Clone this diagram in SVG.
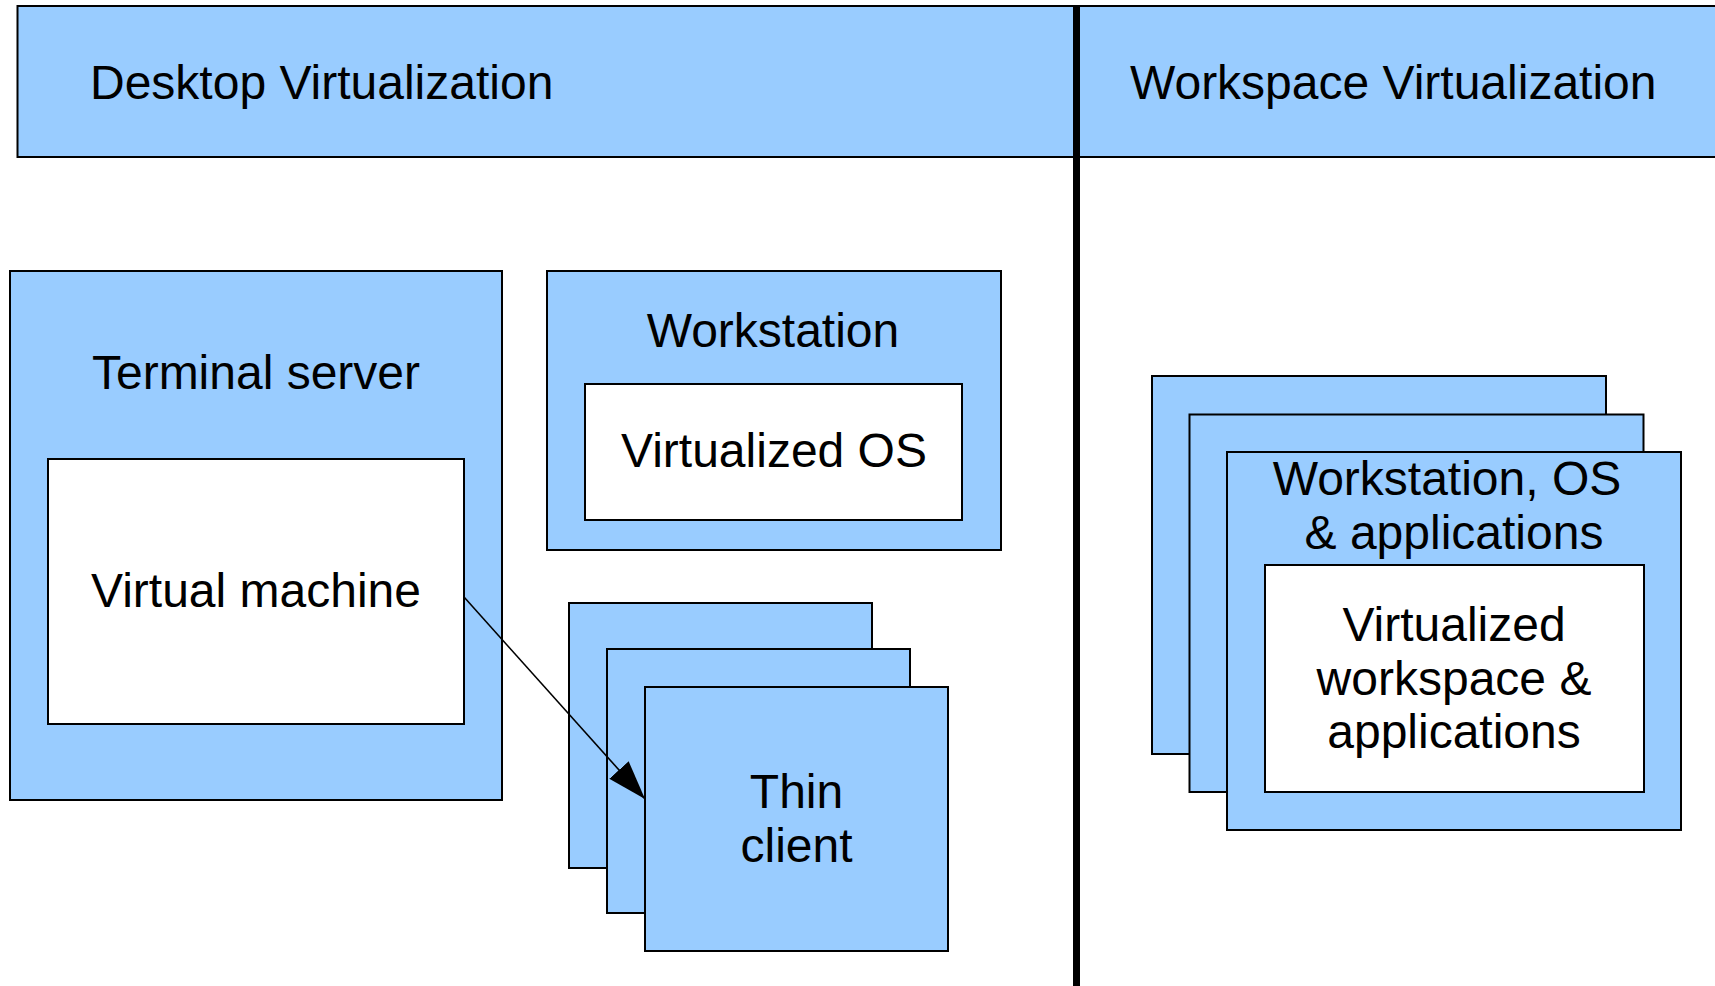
<svg xmlns="http://www.w3.org/2000/svg" width="1715" height="986" viewBox="0 0 1715 986">
<style>
.b{fill:#99ccff;stroke:#000;stroke-width:2}
.w{fill:#fff;stroke:#000;stroke-width:2}
text{font-family:"Liberation Sans",Arial,sans-serif;font-size:48px;fill:#000}
.c{text-anchor:middle}
</style>
<defs>
<marker id="arr" markerUnits="userSpaceOnUse" markerWidth="39" markerHeight="26" viewBox="0 0 39 26" refX="39" refY="13" orient="auto">
<path d="M0,0 L39,13 L0,26 z" fill="#000"/>
</marker>
</defs>
<rect width="1715" height="986" fill="#fff"/>
<g id="header">
<rect class="b" x="17.5" y="6" width="1710" height="151"/>
<text x="90" y="99">Desktop Virtualization</text>
<text x="1130" y="99">Workspace Virtualization</text>
</g>
<g id="divider">
<line x1="1076.5" y1="6" x2="1076.5" y2="986" stroke="#000" stroke-width="7"/>
</g>
<g id="terminal-server">
<rect class="b" x="10" y="271" width="492" height="529"/>
<text class="c" x="256" y="389">Terminal server</text>
</g>
<g id="virtual-machine">
<rect class="w" x="48" y="459" width="416" height="265"/>
<text class="c" x="256" y="607">Virtual machine</text>
</g>
<g id="workstation">
<rect class="b" x="547" y="271" width="454" height="279"/>
<text class="c" x="773" y="347">Workstation</text>
</g>
<g id="virtualized-os">
<rect class="w" x="585" y="384" width="377" height="136"/>
<text class="c" x="774" y="467">Virtualized OS</text>
</g>
<g id="thin-client">
<rect class="b" x="569" y="603" width="303" height="265"/>
<rect class="b" x="607" y="649" width="303" height="264"/>
<rect class="b" x="645" y="687" width="303" height="264"/>
<text class="c" x="796.5" y="808">Thin</text>
<text class="c" x="796.5" y="862">client</text>
</g>
<g id="workspace-stack">
<rect class="b" x="1152" y="376" width="454" height="378"/>
<rect class="b" x="1189.5" y="414.5" width="454" height="377.5"/>
<rect class="b" x="1227" y="452" width="454" height="378"/>
<text class="c" x="1447" y="495">Workstation, OS</text>
<text class="c" x="1454" y="549">&amp; applications</text>
</g>
<g id="virtualized-workspace">
<rect class="w" x="1265" y="565" width="379" height="227"/>
<text class="c" x="1454" y="641">Virtualized</text>
<text class="c" x="1454" y="695">workspace &amp;</text>
<text class="c" x="1454" y="748">applications</text>
</g>
<g id="connectors">
<line x1="464" y1="597" x2="645" y2="799" stroke="#000" stroke-width="1.6" marker-end="url(#arr)"/>
</g>
</svg>
